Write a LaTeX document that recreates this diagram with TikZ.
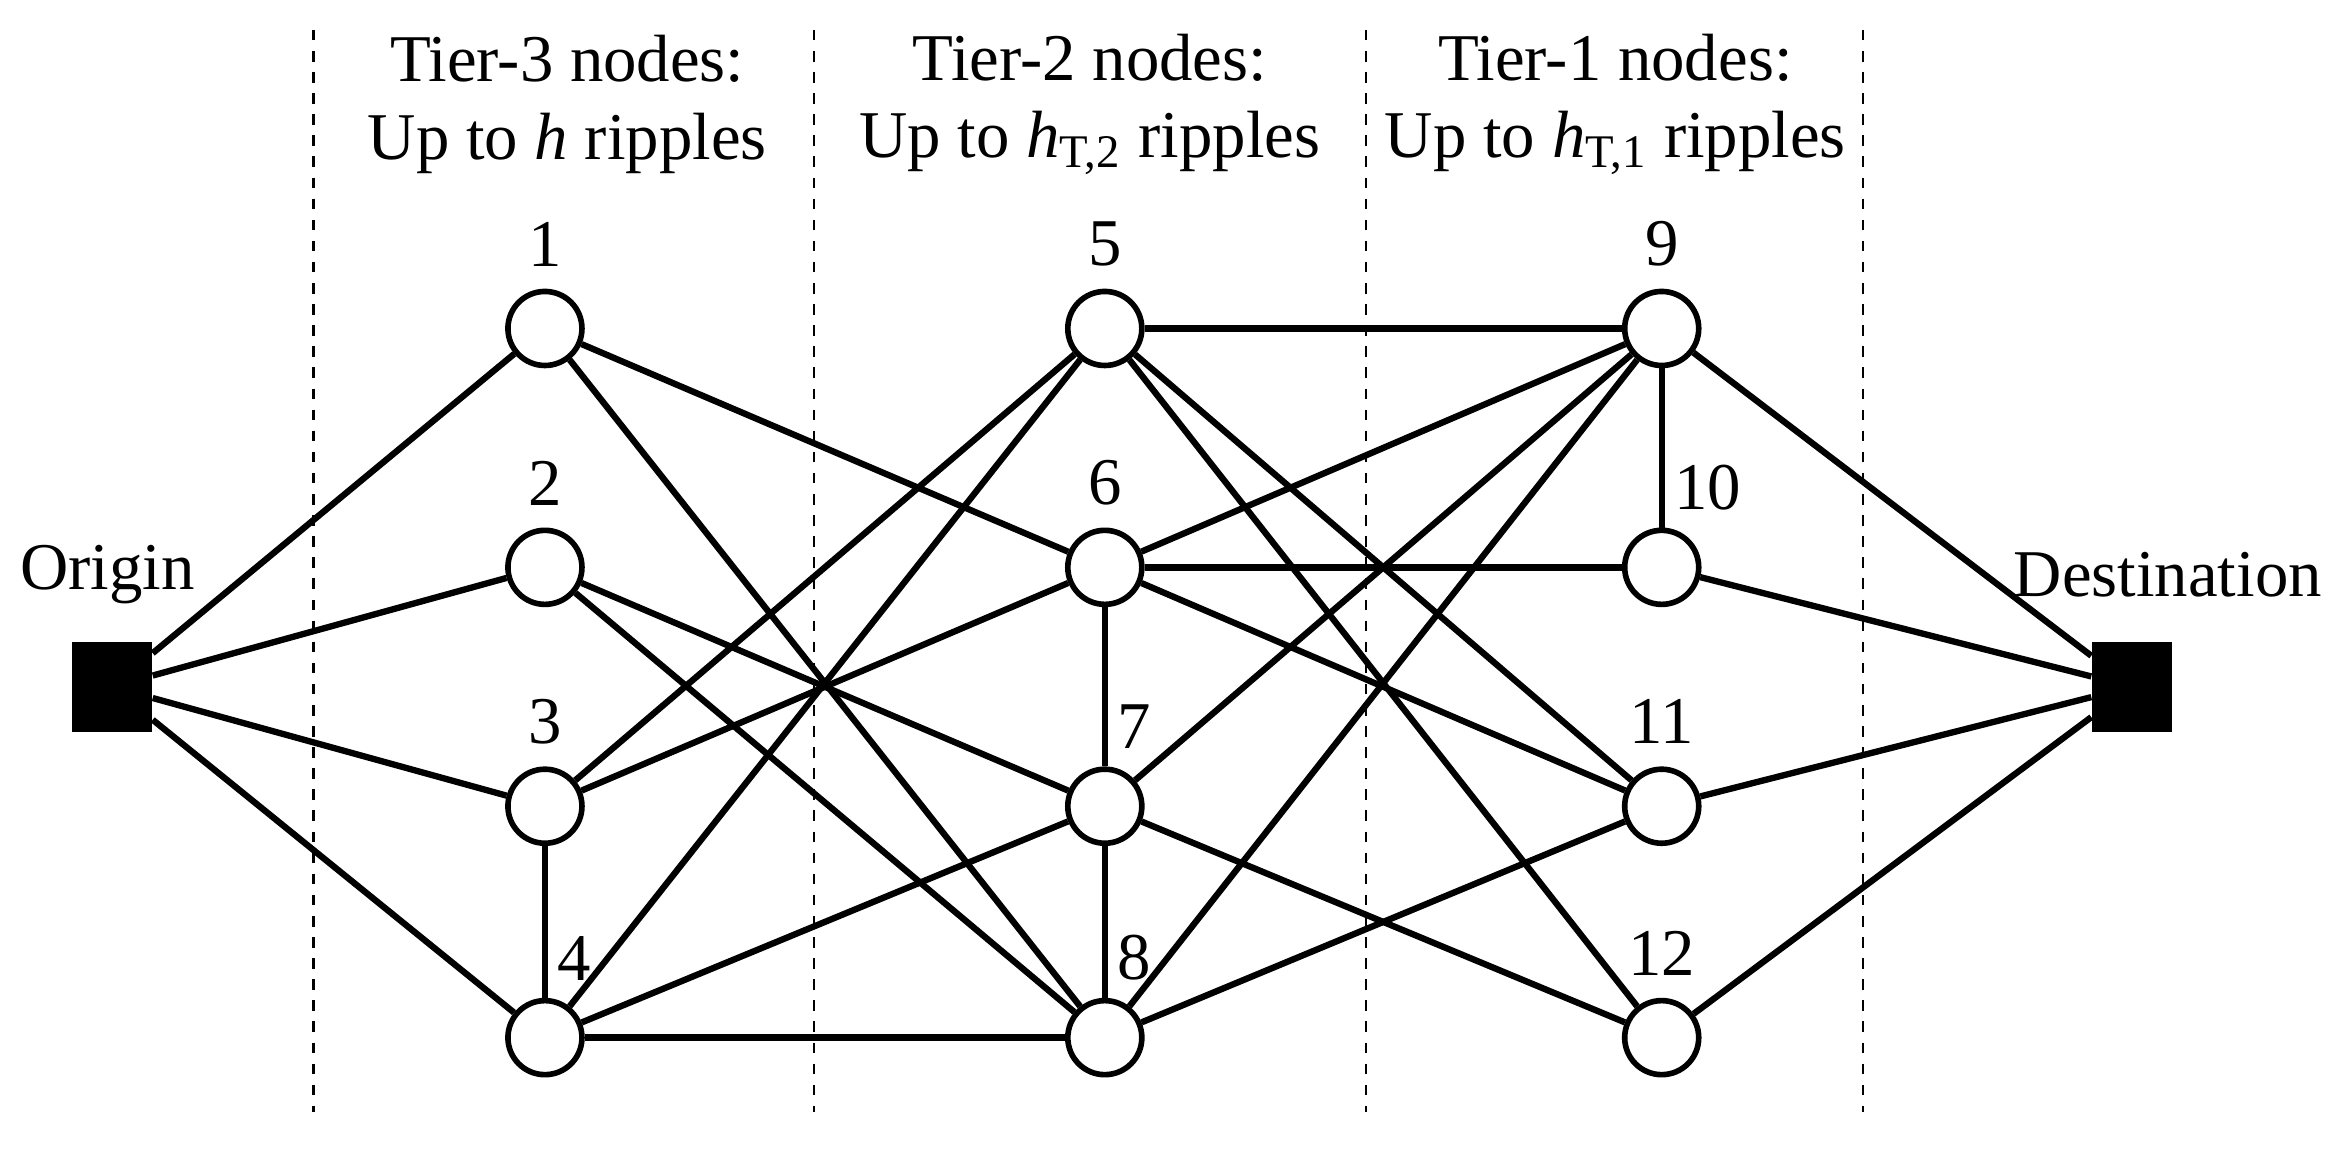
\documentclass[tikz,border=0pt]{standalone}
\usepackage{fontspec}
\setmainfont{Liberation Serif}
\usetikzlibrary{positioning}
\tikzset{
    vertex/.style={circle, draw, thick, line width=1.6pt, fill=white, minimum size=0.74cm, inner sep=0pt}, % the network nodes
    endpoint/.style={rectangle, fill=black, minimum width=0.8cm, minimum height=0.9cm}, % origin and destination
    link/.style={line width=1.8pt}, % the edges
    tier/.style={dashed, line width=0.6pt}, % tier separators
}

\begin{document}
\begin{tikzpicture}[x=0.01493cm, y=-0.01493cm, font=\fontsize{19}{22}\selectfont]
    \useasboundingbox (0,0) rectangle (1568,775);
    % separators
    \foreach \x in {210,545,915,1248}
        \draw[tier] (\x,20) -- (\x,745);
    % headers
    \node[align=center] at (380,70) {Tier-3 nodes:\\Up to \textit{h} ripples};
    \node[align=center] at (730,70) {Tier-2 nodes:\\Up to \textit{h}\textsubscript{T,2} ripples};
    \node[align=center] at (1082,70) {Tier-1 nodes:\\Up to \textit{h}\textsubscript{T,1} ripples};

    \node[endpoint] (o) at (75,460) {};
    \node[endpoint] (d) at (1428,460) {};
    \node at (72,385) {Origin};
    \node at (1452,385) {Destination};

    \foreach \n/\x/\y in {1/365/220, 2/365/380, 3/365/540, 4/365/695,
                          5/740/220, 6/740/380, 7/740/540, 8/740/695,
                          9/1113/220, 10/1113/380, 11/1113/540, 12/1113/695}
        \node[vertex] (n\n) at (\x,\y) {};

    % edges
    \foreach \a/\b in {o/n1, o/n2, o/n3, o/n4, n3/n4, n1/n6, n1/n8, n2/n7, n2/n8,
                       n3/n5, n3/n6, n4/n5, n4/n7, n4/n8, n5/n9, n5/n11, n5/n12,
                       n6/n7, n6/n10, n6/n9, n6/n11, n7/n8, n7/n9, n7/n12,
                       n8/n9, n8/n11, n9/n10, n9/d, n10/d, n11/d, n12/d}
        \draw[link] (\a) -- (\b);

    % labels
    \foreach \n in {1,2,3,5,6,9,11,12}
        \node[above=0.1cm of n\n] {\n};
    \foreach \n in {4,7,8,10}
        \node[above right=0.05cm and 0.0cm of n\n.north, anchor=south west] {\n};
\end{tikzpicture}
\end{document}
